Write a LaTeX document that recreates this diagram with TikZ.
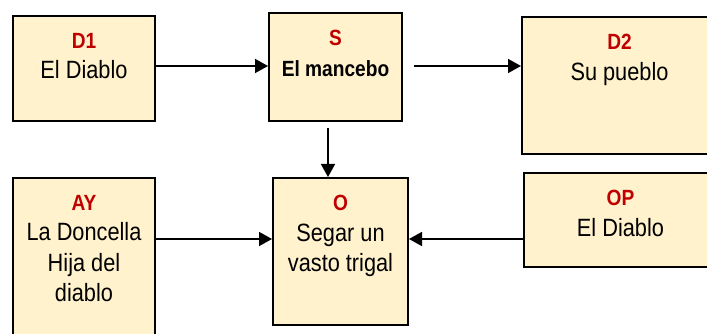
\documentclass[tikz,border=0pt]{standalone}
\usepackage{fontspec}
\setmainfont{Liberation Sans}[FakeStretch=0.87]
\usetikzlibrary{arrows.meta}
\definecolor{boxfill}{HTML}{FFF2CC}
\definecolor{lblred}{HTML}{C00000}
\tikzset{
 box/.style={draw=black, line width=2pt, fill=boxfill, anchor=north west, inner sep=0pt},
 txt/.style={anchor=north, align=center, inner sep=0pt, font=\fontsize{25}{30.5}\selectfont},
 arr/.style={line width=1.6pt, -{Triangle[length=13pt,width=14pt]}},
}
\newcommand\lbl[1]{{\fontsize{22}{30.5}\selectfont\bfseries\color{lblred}#1}}
\begin{document}
\begin{tikzpicture}[x=1pt,y=-1pt]
\useasboundingbox (0,0) rectangle (707,334);
\clip (0,0) rectangle (707,334);
% boxes
\node[box, minimum width=142pt, minimum height=105pt] (D1) at (12,15) {};
\node[box, minimum width=133pt, minimum height=108pt] (S) at (268,12) {};
\node[box, minimum width=195pt, minimum height=137pt] (D2) at (521,16) {};
\node[box, minimum width=142pt, minimum height=168pt] (AY) at (12,177) {};
\node[box, minimum width=135pt, minimum height=147pt] (O) at (272,177) {};
\node[box, minimum width=193pt, minimum height=94pt] (OP) at (523,172) {};
% texts
\node[txt] (D1t) at ([yshift=-18pt]D1.north) {\lbl{D1}\\El Diablo};
\node[txt] (St) at ([yshift=-18pt]S.north) {\lbl{S}\\{\fontsize{22}{30.5}\selectfont\bfseries El mancebo}};
\node[txt] (D2t) at ([yshift=-18pt]D2.north) {\lbl{D2}\\Su pueblo};
\node[txt] (AYt) at ([yshift=-18pt]AY.north) {\lbl{AY}\\La Doncella\\Hija del\\diablo};
\node[txt] (Ot) at ([yshift=-18pt]O.north) {\lbl{O}\\Segar un\\vasto trigal};
\node[txt] (OPt) at ([yshift=-18pt]OP.north) {\lbl{OP}\\El Diablo};
% connectors
\coordinate (top) at (0,66);
\coordinate (mid) at (0,239);
\coordinate (vx) at (328,0);
\draw[arr] (D1.east |- top) -- (S.west |- top);
\draw[arr, shorten <=11pt] (S.east |- top) -- (D2.west |- top);
\draw[arr, shorten <=6pt] (S.south -| vx) -- (O.north -| vx);
\draw[arr] (AY.east |- mid) -- (O.west |- mid);
\draw[arr] (OP.west |- mid) -- (O.east |- mid);
\end{tikzpicture}
\end{document}
